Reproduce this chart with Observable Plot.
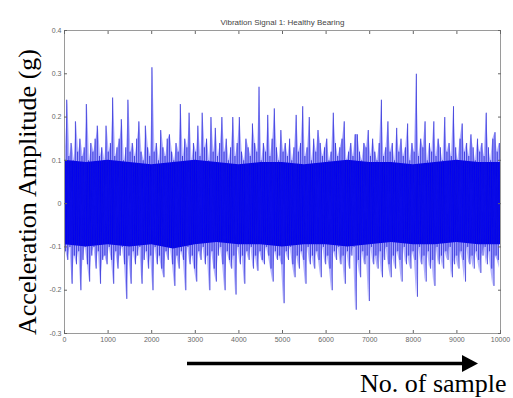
<!DOCTYPE html>
<html>
<head>
<meta charset="utf-8">
<script src="https://cdn.jsdelivr.net/npm/d3@7"></script>
<script src="https://cdn.jsdelivr.net/npm/@observablehq/plot@0.6"></script>
<style>
  html, body { margin: 0; padding: 0; background: #fff; }
  #wrap { position: relative; width: 513px; height: 398px; overflow: hidden; }
  #ylab { position: absolute; left: 28px; top: 192px; transform: translate(-50%, -50%) rotate(-90deg);
          white-space: nowrap; font-family: "Liberation Serif", "Times New Roman", serif; font-size: 26px; line-height: 1; color: #000; }
  #xlab { position: absolute; left: 360px; top: 371px; white-space: nowrap;
          font-family: "Liberation Serif", "Times New Roman", serif; font-size: 26px; line-height: 1; color: #000; }
  #arrow { position: absolute; left: 0; top: 0; }
</style>
</head>
<body>
<div id="wrap">
  <div id="chart"></div>
  <svg id="arrow" width="513" height="398">
    <line x1="187" y1="363.5" x2="464" y2="363.5" stroke="#000" stroke-width="3.5"></line>
    <polygon points="462,355 478,363.5 462,372" fill="#000"></polygon>
  </svg>
  <div id="ylab">Acceleration Amplitude (g)</div>
  <div id="xlab">No. of sample</div>
</div>
<script>
// ---- data ----
const title = "Vibration Signal 1: Healthy Bearing";
const xTicks = [0, 1000, 2000, 3000, 4000, 5000, 6000, 7000, 8000, 9000, 10000];
const yTicks = [-0.3, -0.2, -0.1, 0, 0.1, 0.2, 0.3, 0.4];

// local maximum of the signal in each block of 50 samples
const blockMax = [
  0.13, 0.24, 0.11, 0.14, 0.10, 0.19, 0.12, 0.15, 0.11, 0.13,
  0.23, 0.10, 0.14, 0.12, 0.15, 0.18, 0.11, 0.13, 0.10, 0.18,
  0.12, 0.14, 0.245, 0.11, 0.13, 0.15, 0.195, 0.10, 0.13, 0.24,
  0.12, 0.14, 0.11, 0.15, 0.19, 0.12, 0.10, 0.18, 0.13, 0.11,
  0.315, 0.12, 0.14, 0.10, 0.17, 0.13, 0.11, 0.15, 0.16, 0.12,
  0.10, 0.14, 0.12, 0.23, 0.11, 0.15, 0.13, 0.21, 0.10, 0.14,
  0.12, 0.18, 0.11, 0.21, 0.13, 0.15, 0.10, 0.20, 0.12, 0.175,
  0.11, 0.14, 0.20, 0.12, 0.15, 0.10, 0.13, 0.20, 0.11, 0.14,
  0.20, 0.12, 0.10, 0.15, 0.13, 0.11, 0.185, 0.14, 0.12, 0.27,
  0.10, 0.14, 0.12, 0.205, 0.11, 0.15, 0.22, 0.13, 0.10, 0.17,
  0.12, 0.14, 0.11, 0.15, 0.10, 0.13, 0.205, 0.12, 0.14, 0.225,
  0.11, 0.13, 0.20, 0.10, 0.15, 0.12, 0.17, 0.14, 0.11, 0.13,
  0.15, 0.10, 0.12, 0.21, 0.14, 0.11, 0.13, 0.15, 0.19, 0.10,
  0.12, 0.14, 0.11, 0.16, 0.16, 0.12, 0.10, 0.14, 0.13, 0.17,
  0.11, 0.15, 0.12, 0.10, 0.14, 0.24, 0.11, 0.13, 0.19, 0.12,
  0.14, 0.10, 0.175, 0.12, 0.15, 0.11, 0.13, 0.185, 0.10, 0.14,
  0.12, 0.30, 0.11, 0.15, 0.13, 0.19, 0.10, 0.14, 0.12, 0.19,
  0.11, 0.15, 0.13, 0.10, 0.20, 0.12, 0.14, 0.11, 0.225, 0.13,
  0.10, 0.15, 0.185, 0.12, 0.14, 0.11, 0.16, 0.13, 0.10, 0.15,
  0.12, 0.14, 0.11, 0.21, 0.13, 0.10, 0.15, 0.165, 0.12, 0.14
];
// local minimum of the signal in each block of 50 samples
const blockMin = [
  -0.11, -0.13, -0.10, -0.185, -0.12, -0.14, -0.11, -0.20, -0.13, -0.10,
  -0.14, -0.18, -0.12, -0.10, -0.15, -0.11, -0.185, -0.13, -0.12, -0.14,
  -0.10, -0.13, -0.185, -0.11, -0.15, -0.12, -0.10, -0.14, -0.22, -0.12,
  -0.185, -0.11, -0.14, -0.12, -0.10, -0.185, -0.13, -0.11, -0.15, -0.12,
  -0.20, -0.10, -0.14, -0.12, -0.15, -0.17, -0.11, -0.13, -0.10, -0.14,
  -0.19, -0.12, -0.15, -0.11, -0.13, -0.20, -0.10, -0.14, -0.12, -0.15,
  -0.18, -0.11, -0.13, -0.10, -0.14, -0.12, -0.20, -0.11, -0.15, -0.18,
  -0.12, -0.10, -0.14, -0.20, -0.11, -0.13, -0.15, -0.12, -0.21, -0.10,
  -0.14, -0.12, -0.185, -0.11, -0.13, -0.10, -0.15, -0.12, -0.155, -0.11,
  -0.13, -0.14, -0.10, -0.12, -0.15, -0.18, -0.11, -0.13, -0.12, -0.14,
  -0.23, -0.11, -0.13, -0.10, -0.14, -0.17, -0.12, -0.15, -0.11, -0.13,
  -0.185, -0.10, -0.14, -0.12, -0.15, -0.11, -0.13, -0.17, -0.10, -0.14,
  -0.12, -0.15, -0.20, -0.11, -0.13, -0.10, -0.14, -0.12, -0.185, -0.11,
  -0.15, -0.12, -0.10, -0.245, -0.13, -0.17, -0.11, -0.14, -0.12, -0.225,
  -0.10, -0.14, -0.12, -0.15, -0.11, -0.17, -0.13, -0.10, -0.14, -0.17,
  -0.12, -0.15, -0.11, -0.13, -0.18, -0.10, -0.14, -0.12, -0.15, -0.11,
  -0.13, -0.215, -0.10, -0.14, -0.12, -0.18, -0.11, -0.15, -0.13, -0.19,
  -0.10, -0.14, -0.12, -0.15, -0.11, -0.13, -0.10, -0.17, -0.14, -0.12,
  -0.15, -0.11, -0.13, -0.18, -0.10, -0.14, -0.12, -0.15, -0.11, -0.13,
  -0.16, -0.12, -0.10, -0.14, -0.11, -0.15, -0.19, -0.12, -0.13, -0.15
];
// edges of the dense (saturated) core of the trace, every 500 samples
const coreHi = [0.10, 0.095, 0.10, 0.095, 0.09, 0.095, 0.10, 0.095, 0.09, 0.095, 0.095, 0.09, 0.095, 0.10, 0.095, 0.095, 0.09, 0.095, 0.10, 0.095, 0.095];
const coreLo = [-0.095, -0.10, -0.095, -0.10, -0.095, -0.105, -0.095, -0.09, -0.095, -0.095, -0.10, -0.095, -0.095, -0.10, -0.095, -0.09, -0.095, -0.095, -0.09, -0.095, -0.095];

// ---- tables built from the arrays ----
const nBlocks = blockMax.length;
const blocks = blockMax.map((v, i) => ({sample: (i + 0.5) * 10000 / nBlocks, max: v, min: blockMin[i]}));
const trace = [];
blockMax.forEach((v, i) => {
  trace.push({sample: (2 * i) * 10000 / (2 * nBlocks - 1), value: v});
  trace.push({sample: (2 * i + 1) * 10000 / (2 * nBlocks - 1), value: blockMin[i]});
});
const core = coreHi.map((h, i) => ({sample: i * 10000 / (coreHi.length - 1), hi: h, lo: coreLo[i]}));

const fmt = d => String(d);
const none = () => "";

const chart = Plot.plot({
  width: 513,
  height: 398,
  marginLeft: 64,
  marginRight: 13,
  marginTop: 30,
  marginBottom: 65,
  x: {domain: [0, 10000]},
  y: {domain: [-0.3, 0.4]},
  style: {fontFamily: "'Liberation Sans', Arial, sans-serif", fontSize: "7px", color: "#666", background: "transparent", overflow: "visible"},
  marks: [
    Plot.areaY(blocks, {x: "sample", y1: "min", y2: "max", fill: "#4a4aff", fillOpacity: 0.42, curve: "linear"}),
    Plot.areaY(core, {x: "sample", y1: "lo", y2: "hi", fill: "#0000f2", curve: "linear"}),
    Plot.line(trace, {x: "sample", y: "value", stroke: "#2020ff", strokeWidth: 0.8, strokeOpacity: 0.5}),
    Plot.line(trace, {x: "sample", y: "value", stroke: "#00006e", strokeWidth: 0.5, strokeOpacity: 0.25}),
    Plot.frame({stroke: "#9a9a9a"}),
    Plot.axisX(xTicks, {anchor: "bottom", tickSize: 0, tickPadding: 4, tickFormat: fmt, label: null}),
    Plot.axisX(xTicks, {anchor: "bottom", tickSize: -3, tickFormat: none, label: null}),
    Plot.axisX(xTicks, {anchor: "top", tickSize: -3, tickFormat: none, label: null}),
    Plot.axisY(yTicks, {anchor: "left", tickSize: 0, tickPadding: 3, tickFormat: fmt, label: null}),
    Plot.axisY(yTicks, {anchor: "left", tickSize: -3, tickFormat: none, label: null}),
    Plot.axisY(yTicks, {anchor: "right", tickSize: -3, tickFormat: none, label: null}),
    Plot.text([title], {frameAnchor: "top", dy: -11, fontSize: 8, fill: "#444"})
  ]
});
document.getElementById("chart").appendChild(chart);
</script>
</body>
</html>
